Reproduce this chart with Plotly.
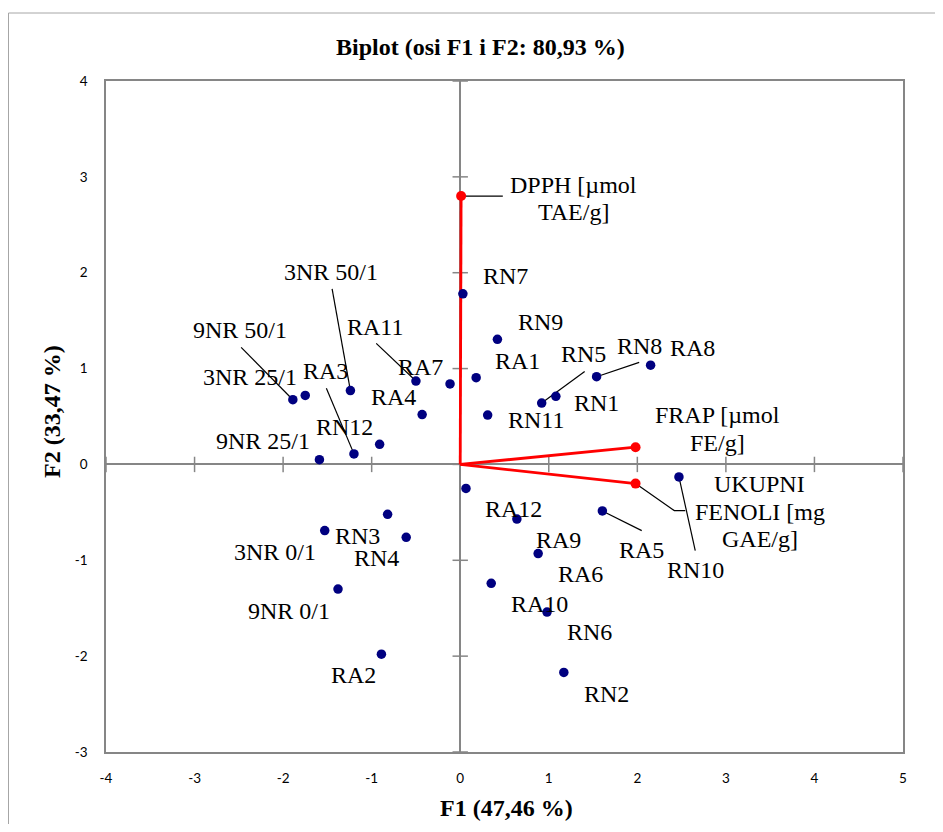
import plotly.graph_objects as go

# ---------------- data ----------------
obs_names = ["9NR 50/1", "3NR 25/1", "3NR 50/1", "RA11", "RA7", "RA1", "RA4", "RA3", "RN12", "9NR 25/1",
             "RN7", "RN9", "RN11", "RN5", "RN1", "RN8", "RA8",
             "RA12", "RA9", "RA6", "RA10", "RN6", "RN2", "RA5", "RN10",
             "3NR 0/1", "RN3", "RN4", "9NR 0/1", "RA2"]
obs_f1 = [-1.89, -1.75, -1.24, -0.50, -0.115, 0.18, -0.43, -1.20, -0.91, -1.59,
          0.03, 0.42, 0.31, 0.92, 1.08, 1.54, 2.15,
          0.065, 0.64, 0.88, 0.35, 0.98, 1.17, 1.605, 2.47,
          -1.53, -0.82, -0.61, -1.38, -0.89]
obs_f2 = [0.675, 0.72, 0.77, 0.87, 0.84, 0.905, 0.52, 0.11, 0.21, 0.05,
          1.78, 1.305, 0.515, 0.64, 0.71, 0.915, 1.035,
          -0.25, -0.57, -0.93, -1.24, -1.54, -2.17, -0.485, -0.13,
          -0.69, -0.52, -0.76, -1.30, -1.98]

var_names = [["DPPH [µmol", "TAE/g]"], ["FRAP [µmol", "FE/g]"], ["UKUPNI", "FENOLI [mg", "GAE/g]"]]
var_f1 = [0.01, 1.98, 1.98]
var_f2 = [2.80, 0.18, -0.20]

x_ticks = [-4, -3, -2, -1, 0, 1, 2, 3, 4, 5]
y_ticks = [-3, -2, -1, 0, 1, 2, 3, 4]

title_text = "Biplot (osi F1 i F2: 80,93 %)"
x_title = "F1 (47,46 %)"
y_title = "F2 (33,47 %)"

# ---------------- layout / style ----------------
PAGE = 8                      # default body margin of the html page
W, H = 943 - PAGE, 832 - 2 * PAGE
ML, MT = 106 - PAGE, 81 - PAGE
PW, PH = 903 - 106, 752 - 81
MR, MB = W - ML - PW, H - MT - PH
XR, YR = [-4, 5], [-3, 4]
UX = PW / (XR[1] - XR[0])
UY = PH / (YR[1] - YR[0])

SERIF = "Liberation Serif, Times New Roman, serif"
AX_GRAY = "#868686"


def px_to_paper_x(px):
    return (px - PAGE - ML) / PW


def px_to_paper_y(py):
    return (MT + PH - (py - PAGE)) / PH


# label offsets in pixels (dx right, dy down) from the point
obs_label_off = {
    "9NR 50/1": (-52.7, -69.7), "3NR 25/1": (-55, -18), "3NR 50/1": (-19.3, -118.3),
    "RA11": (-41.4, -54.3), "RA7": (-29.3, -17), "RA1": (41.4, -17), "RA4": (-28.7, -18),
    "RA3": (-28.6, -83), "RN12": (-35.4, -17.6), "9NR 25/1": (-56, -18.3),
    "RN7": (42.3, -17.7), "RN9": (42.7, -17.6), "RN11": (48, 5), "RN5": (42.3, -48.6),
    "RN1": (41, 7), "RN8": (42.6, -30.7), "RA8": (42, -17),
    "RA12": (47.3, 21), "RA9": (41.6, 20.7), "RA6": (42, 20), "RA10": (48.3, 20.3),
    "RN6": (42.3, 20), "RN2": (42.3, 21.3), "RA5": (38.7, 39), "RN10": (16.3, 93),
    "3NR 0/1": (-49.3, 21), "RN3": (-30.4, 21.4), "RN4": (-30, 20.3),
    "9NR 0/1": (-49.4, 21.7), "RA2": (-27.7, 21),
}
# leader line start offsets (pixels) from the point
obs_leaders = {
    "9NR 50/1": [(-51.7, -52.4)], "3NR 50/1": [(-18.3, -101.7)], "RA11": [(-39.7, -37.7)],
    "RA3": [(-27.6, -65.7)], "RN5": [(43, -31.6)], "RN8": [(42.6, -14.4)],
    "RA5": [(39.4, 19.7)], "RN10": [(16.3, 73.7)],
}
var_label_off = [[(112, -11), (112, 16)], [(82, -32), (82, -3.7)], [(124, 0.6), (124, 28.6), (124, 55.3)]]
var_leaders = [[(41.7, 0)], None, [(49.7, 27), (38.7, 27)]]


def shift(x, y, d):
    return x + d[0] / UX, y - d[1] / UY


fig = go.Figure()

# cross tick marks on the centre axes
fig.add_trace(go.Scatter(x=x_ticks, y=[0] * len(x_ticks), mode="markers", hoverinfo="skip",
                         marker=dict(symbol="line-ns", size=11, line=dict(color=AX_GRAY, width=1.5))))
fig.add_trace(go.Scatter(x=[0] * len(y_ticks), y=y_ticks, mode="markers", hoverinfo="skip",
                         marker=dict(symbol="line-ew", size=11, line=dict(color=AX_GRAY, width=1.5))))

# leader lines
lx, ly = [], []
for name, x, y in zip(obs_names, obs_f1, obs_f2):
    if name in obs_leaders:
        pts = [shift(x, y, d) for d in obs_leaders[name]] + [(x, y)]
        lx += [p[0] for p in pts] + [None]
        ly += [p[1] for p in pts] + [None]
for i, (x, y) in enumerate(zip(var_f1, var_f2)):
    if var_leaders[i]:
        pts = [shift(x, y, d) for d in var_leaders[i]] + [(x, y)]
        lx += [p[0] for p in pts] + [None]
        ly += [p[1] for p in pts] + [None]
fig.add_trace(go.Scatter(x=lx, y=ly, mode="lines", line=dict(color="black", width=1.2), hoverinfo="skip"))

# red variable vectors
vx, vy = [], []
for x, y in zip(var_f1, var_f2):
    vx += [0, x, None]
    vy += [0, y, None]
fig.add_trace(go.Scatter(x=vx, y=vy, mode="lines", line=dict(color="#FF0000", width=2.8), hoverinfo="skip"))
fig.add_trace(go.Scatter(x=var_f1, y=var_f2, mode="markers",
                         marker=dict(color="#FF0000", size=10), hoverinfo="skip"))

# observations
fig.add_trace(go.Scatter(x=obs_f1, y=obs_f2, mode="markers", text=obs_names,
                         marker=dict(color="#000080", size=9.5)))

annotations = []
lab_font = dict(family=SERIF, size=24, color="black")
for name, x, y in zip(obs_names, obs_f1, obs_f2):
    dx, dy = obs_label_off[name]
    annotations.append(dict(x=x, y=y, xref="x", yref="y", text=name, showarrow=False,
                            xshift=dx, yshift=-dy, xanchor="center", yanchor="middle", font=lab_font))
for i, (x, y) in enumerate(zip(var_f1, var_f2)):
    for line, (dx, dy) in zip(var_names[i], var_label_off[i]):
        annotations.append(dict(x=x, y=y, xref="x", yref="y", text=line, showarrow=False,
                                xshift=dx, yshift=-dy, xanchor="center", yanchor="middle", font=lab_font))

bold_font = dict(family=SERIF, size=24, color="black")
annotations.append(dict(x=px_to_paper_x(480.5), y=px_to_paper_y(47), xref="paper", yref="paper",
                        text="<b>" + title_text + "</b>", showarrow=False, xanchor="center",
                        yanchor="middle", font=bold_font))
annotations.append(dict(x=px_to_paper_x(506), y=px_to_paper_y(808), xref="paper", yref="paper",
                        text="<b>" + x_title + "</b>", showarrow=False, xanchor="center",
                        yanchor="middle", font=bold_font))
annotations.append(dict(x=px_to_paper_x(52), y=px_to_paper_y(412), xref="paper", yref="paper",
                        text="<b>" + y_title + "</b>", showarrow=False, xanchor="center",
                        yanchor="middle", textangle=-90, font=bold_font))

tick_font = dict(family="Lato, Carlito, Calibri, sans-serif", size=13.5, color="black")
fig.update_layout(
    width=W, height=H, autosize=False,
    margin=dict(l=ML, r=MR, t=MT, b=MB, pad=0),
    paper_bgcolor="white", plot_bgcolor="white",
    showlegend=False,
    annotations=annotations,
    xaxis=dict(range=XR, tickvals=x_ticks, ticktext=[str(v) for v in x_ticks],
               showgrid=False, zeroline=True, zerolinecolor=AX_GRAY, zerolinewidth=1.5,
               showline=True, mirror=True, linecolor=AX_GRAY, linewidth=1.5,
               ticks="", ticklabelstandoff=13, tickfont=tick_font, fixedrange=True),
    yaxis=dict(range=YR, tickvals=y_ticks, ticktext=[str(v) for v in y_ticks],
               showgrid=False, zeroline=True, zerolinecolor=AX_GRAY, zerolinewidth=1.5,
               showline=True, mirror=True, linecolor=AX_GRAY, linewidth=1.5,
               ticks="", ticklabelstandoff=14, tickfont=tick_font, fixedrange=True),
    shapes=[dict(type="rect", xref="paper", yref="paper",
                 x0=px_to_paper_x(8.5), x1=px_to_paper_x(965),
                 y0=px_to_paper_y(860), y1=px_to_paper_y(13),
                 line=dict(color="#A6A6A6", width=1), fillcolor="rgba(0,0,0,0)", layer="below")],
)

fig.write_html("out.html")
